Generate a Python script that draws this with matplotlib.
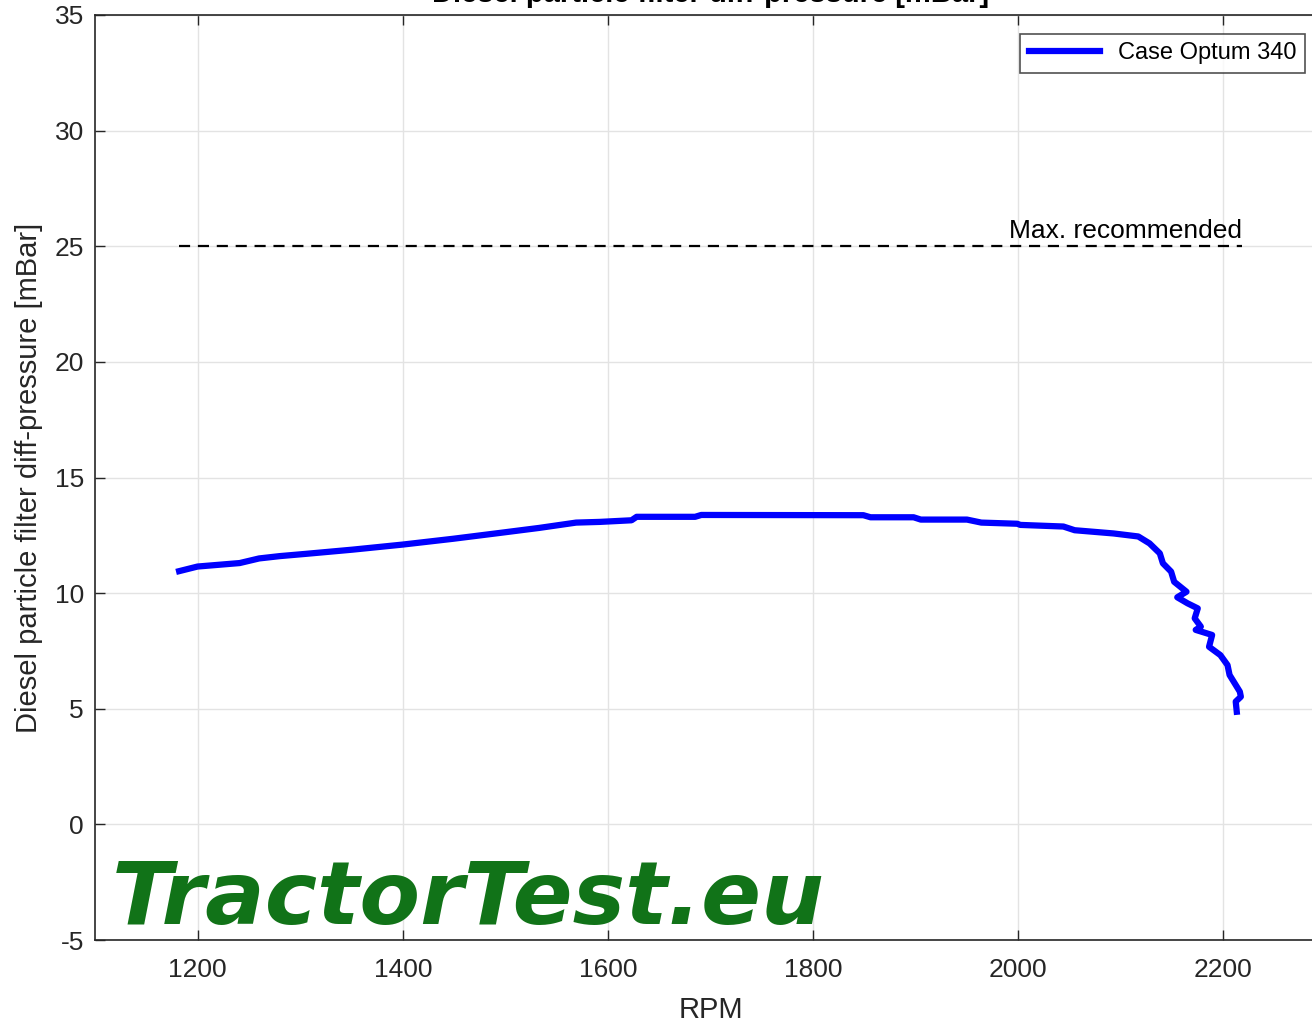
import matplotlib
matplotlib.use('Agg')
import matplotlib.pyplot as plt

plt.rcParams['font.family'] = ['Liberation Sans', 'DejaVu Sans']
plt.rcParams['axes.unicode_minus'] = False

# Data
rpm = [1182, 1200, 1241, 1260, 1280, 1306, 1351, 1400, 1449, 1494, 1533, 1569,
       1592, 1623, 1628, 1685, 1691, 1849, 1856, 1898, 1905, 1950, 1964, 1999,
       2002, 2044, 2055, 2093, 2117, 2128, 2138, 2141, 2149, 2152, 2164, 2155,
       2165, 2175, 2172, 2178, 2173, 2189, 2186, 2197, 2204, 2206, 2216, 2217,
       2212, 2213]
pressure = [10.95, 11.15, 11.3, 11.5, 11.6, 11.7, 11.88, 12.1, 12.35, 12.6, 12.82, 13.05,
            13.08, 13.15, 13.3, 13.3, 13.38, 13.37, 13.28, 13.28, 13.18, 13.18, 13.05, 13.0,
            12.95, 12.88, 12.72, 12.58, 12.45, 12.15, 11.72, 11.29, 10.93, 10.49, 10.06, 9.82,
            9.56, 9.34, 8.91, 8.55, 8.41, 8.19, 7.68, 7.32, 6.89, 6.46, 5.74, 5.52,
            5.31, 4.87]

limit_rpm = [1182, 2218]
limit_value = [25, 25]

x_ticks = [1200, 1400, 1600, 1800, 2000, 2200]
y_ticks = [-5, 0, 5, 10, 15, 20, 25, 30, 35]

fig = plt.figure(figsize=(13.12, 10.26), dpi=100)
ax = fig.add_axes([95 / 1312, 1 - 940 / 1026, 1231 / 1312, 925 / 1026])

ax.plot(rpm, pressure, color='#0000ff', linewidth=4.5, label='Case Optum 340')
ax.plot(limit_rpm, limit_value, color='black', linestyle=(0, (5, 3.5)), linewidth=1.6)
ax.text(2218, 25.15, 'Max. recommended', ha='right', va='bottom', fontsize=19, color='black')

ax.set_xlim(1100, 2300)
ax.set_ylim(-5, 35)
ax.set_xticks(x_ticks)
ax.set_yticks(y_ticks)
ax.tick_params(direction='in', top=True, right=True, length=7, width=1,
               labelsize=19, colors='#262626')
ax.tick_params(axis='x', pad=13)
ax.tick_params(axis='y', pad=8)
ax.grid(True, color='#e3e3e3', linewidth=1)
ax.set_axisbelow(True)
for s in ax.spines.values():
    s.set_color('#262626')
    s.set_linewidth(1.2)

ax.set_xlabel('RPM', fontsize=21, color='#262626', labelpad=10)
ax.set_ylabel('Diesel particle filter diff-pressure [mBar]', fontsize=21, color='#262626', labelpad=8)
ax.set_title('Diesel particle filter diff-pressure [mBar]', fontsize=21, fontweight='bold', pad=9)

leg = ax.legend(loc='upper right', fontsize=17, frameon=True, fancybox=False,
                edgecolor='#262626', handlelength=3, borderpad=0.35,
                bbox_to_anchor=((1317 - 95) / 1231, 0.992))
leg.get_frame().set_linewidth(1.2)

# watermark
fig.text(112 / 1312, 1 - 924 / 1026, 'TractorTest.eu', fontsize=63.6,
         family='DejaVu Sans', fontweight='bold', style='italic',
         color='#117318', ha='left', va='baseline')

fig.savefig('out.png', dpi=100)
